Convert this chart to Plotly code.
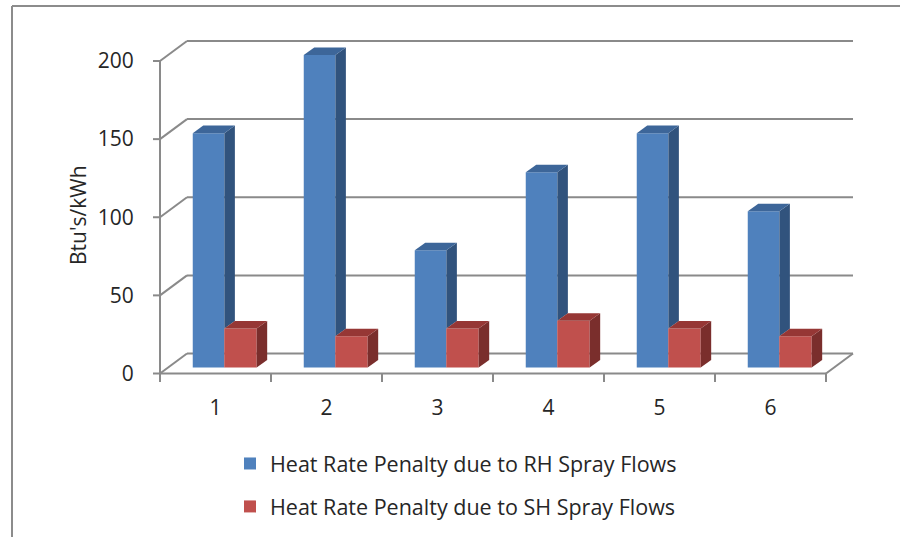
import plotly.graph_objects as go

# ---- data ----
categories = [1, 2, 3, 4, 5, 6]
rh_penalty = [150, 200, 75, 125, 150, 100]
sh_penalty = [25, 20, 25, 30, 25, 20]
y_ticks = [0, 50, 100, 150, 200]
series_names = ["Heat Rate Penalty due to RH Spray Flows",
                "Heat Rate Penalty due to SH Spray Flows"]

# ---- geometry (pixel layout constants) ----
W, H = 900, 537
PX_X = 111.0          # px per category unit
PX_Y = 1.5625         # px per value unit
DX = 27 / PX_X        # wall depth in x units
DY = 20 / PX_Y        # wall depth in y units
BASE = 6 / PX_Y       # bar base (bars sit inside the floor)
SDX = 10.5 / PX_X     # bar side depth
SDY = 7.5 / PX_Y
TICK_X = 7 / PX_X
TICK_Y = 8.5 / PX_Y

L, R, T, B = 152, 45, 38, 154
plot_w = W - L - R
plot_h = H - T - B
xmin = 0.5 - 8 / PX_X
xmax = xmin + plot_w / PX_X
ymin = -(H - B - 373.5) / PX_Y
ymax = ymin + plot_h / PX_Y

GRID = "#8a8a8a"
BLUE, BLUE_SIDE, BLUE_TOP = "#4F81BD", "#31537D", "#3D6699"
RED, RED_SIDE, RED_TOP = "#C0504D", "#7A2E2C", "#963735"
TXT = "#262626"
FONT = "Open Sans"
FS = 21

fig = go.Figure()

# gridlines on back wall + connectors + front axis + floor (as shapes below traces)
shapes = []
def seg(x0, y0, x1, y1):
    shapes.append(dict(type="line", xref="x", yref="y", x0=x0, y0=y0, x1=x1, y1=y1,
                       layer="below", line=dict(color=GRID, width=2)))

for g in y_ticks:
    seg(0.5, g, 0.5 + DX, g + DY)
    seg(0.5 + DX, g + DY, 6.5 + DX, g + DY)
    seg(0.5 - TICK_X, g, 0.5, g)
seg(0.5, 0, 0.5, y_ticks[-1])
seg(0.5, 0, 6.5, 0)
seg(6.5, 0, 6.5 + DX, DY)
for k in range(len(categories) + 1):
    xb = 0.5 + k
    seg(xb, 0, xb, -TICK_Y)

BW = 0.285
B_OFF = -0.205
R_OFF = 0.079
RW = 0.292

# 3D side and top faces
for c, vb, vr in zip(categories, rh_penalty, sh_penalty):
    x1 = c + B_OFF + BW
    fig.add_trace(go.Scatter(
        x=[x1, x1 + SDX, x1 + SDX, x1, x1],
        y=[BASE + vr, BASE + vr + SDY, BASE + vb + SDY, BASE + vb, BASE + vr],
        fill="toself", fillcolor=BLUE_SIDE, mode="lines", line=dict(width=0),
        showlegend=False, hoverinfo="skip"))
    x0 = c + B_OFF
    fig.add_trace(go.Scatter(
        x=[x0, x1, x1 + SDX, x0 + SDX, x0],
        y=[BASE + vb, BASE + vb, BASE + vb + SDY, BASE + vb + SDY, BASE + vb],
        fill="toself", fillcolor=BLUE_TOP, mode="lines", line=dict(width=0),
        showlegend=False, hoverinfo="skip"))
    r0 = c + R_OFF
    r1 = r0 + RW
    fig.add_trace(go.Scatter(
        x=[r1, r1 + SDX, r1 + SDX, r1, r1],
        y=[BASE, BASE + SDY, BASE + vr + SDY, BASE + vr, BASE],
        fill="toself", fillcolor=RED_SIDE, mode="lines", line=dict(width=0),
        showlegend=False, hoverinfo="skip"))
    fig.add_trace(go.Scatter(
        x=[r0, r1, r1 + SDX, r0 + SDX, r0],
        y=[BASE + vr, BASE + vr, BASE + vr + SDY, BASE + vr + SDY, BASE + vr],
        fill="toself", fillcolor=RED_TOP, mode="lines", line=dict(width=0),
        showlegend=False, hoverinfo="skip"))

# front faces as bars
fig.add_trace(go.Bar(x=categories, y=rh_penalty, base=BASE, width=BW, offset=B_OFF,
                     marker=dict(color=BLUE, line=dict(width=0)), name=series_names[0],
                     legendgroup="a"))
fig.add_trace(go.Bar(x=categories, y=sh_penalty, base=BASE, width=RW, offset=R_OFF,
                     marker=dict(color=RED, line=dict(width=0)), name=series_names[1],
                     legendgroup="b"))

def px2paper_x(px):
    return (px - L) / plot_w

def px2paper_y(py):
    return (H - B - py) / plot_h

shapes += [
    dict(type="line", xref="paper", yref="paper", x0=px2paper_x(12), x1=px2paper_x(12),
         y0=px2paper_y(6), y1=px2paper_y(560), line=dict(color="#8c8c8c", width=2)),
    dict(type="line", xref="paper", yref="paper", x0=px2paper_x(12), x1=px2paper_x(920),
         y0=px2paper_y(6), y1=px2paper_y(6), line=dict(color="#8c8c8c", width=2)),
]

fig.update_layout(
    width=W, height=H,
    margin=dict(l=L, r=R, t=T, b=B, pad=0, autoexpand=False),
    paper_bgcolor="white", plot_bgcolor="white",
    barmode="overlay",
    font=dict(family=FONT, size=FS, color=TXT),
    xaxis=dict(range=[xmin, xmax], tickvals=categories, ticktext=[str(c) for c in categories],
               ticks="outside", ticklen=6, tickcolor="rgba(0,0,0,0)",
               showgrid=False, zeroline=False, showline=False, automargin=False,
               tickfont=dict(size=FS, color=TXT)),
    yaxis=dict(range=[ymin, ymax], tickvals=y_ticks, ticks="outside", ticklen=13,
               tickcolor="rgba(0,0,0,0)", showgrid=False, automargin=False,
               zeroline=False, showline=False, tickfont=dict(size=FS, color=TXT)),
    legend=dict(x=px2paper_x(230), y=px2paper_y(443), xanchor="left", yanchor="top",
                orientation="v", tracegroupgap=12, font=dict(size=21.5, color=TXT),
                bgcolor="rgba(0,0,0,0)"),
    shapes=shapes,
    annotations=[dict(text="Btu's/kWh", xref="paper", yref="paper", x=px2paper_x(78),
                      y=px2paper_y(215), textangle=-90, showarrow=False,
                      font=dict(size=FS, color=TXT), xanchor="center", yanchor="middle")],
)

fig.write_html("out.html")
